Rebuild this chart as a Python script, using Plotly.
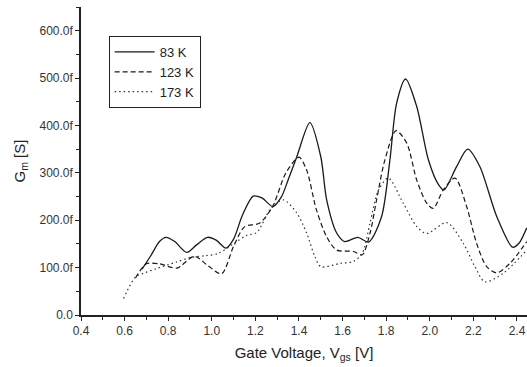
import plotly.graph_objects as go

# 83 K (solid)
x83 = [0.68, 0.72, 0.76, 0.79, 0.83, 0.885, 0.93, 0.98, 1.02, 1.065, 1.10, 1.14, 1.19, 1.23, 1.28,
       1.32, 1.35, 1.39, 1.45, 1.50, 1.527, 1.573, 1.61, 1.67, 1.72, 1.779, 1.817, 1.848, 1.889,
       1.94, 1.994, 2.04, 2.065, 2.123, 2.174, 2.23, 2.307, 2.38, 2.41, 2.445]
y83 = [97, 125, 155, 164, 155, 132, 148, 164, 158, 141, 160, 210, 251, 247, 229,
       250, 285, 334, 406, 334, 243, 173, 155, 164, 154, 208, 327, 447, 498,
       440, 327, 275, 264, 313, 350, 313, 208, 143, 152, 184]

# 123 K (dashed)
x123 = [0.65, 0.70, 0.76, 0.84, 0.92, 0.98, 1.045, 1.10, 1.15, 1.22, 1.28, 1.34, 1.40, 1.435,
        1.48, 1.527, 1.573, 1.65, 1.69, 1.726, 1.756, 1.794, 1.845, 1.894, 1.94, 1.986, 2.016,
        2.062, 2.116, 2.169, 2.215, 2.261, 2.307, 2.368, 2.445]
y123 = [78, 108, 108, 99, 124, 105, 87, 145, 186, 194, 230, 300, 333, 306,
        222, 165, 137, 134, 127, 173, 243, 327, 389, 363, 285, 236, 225,
        264, 289, 229, 151, 102, 89, 109, 155]

# 173 K (dotted)
x173 = [0.595, 0.65, 0.686, 0.747, 0.839, 0.91, 0.97, 1.03, 1.114, 1.16, 1.206, 1.267, 1.328,
        1.39, 1.435, 1.473, 1.500, 1.59, 1.65, 1.69, 1.726, 1.765, 1.81, 1.878, 1.94, 1.986,
        2.078, 2.154, 2.207, 2.253, 2.337, 2.445]
y173 = [35, 80, 88, 98, 112, 122, 125, 130, 155, 168, 174, 222, 243,
        215, 173, 123, 102, 109, 113, 130, 194, 264, 289, 236, 187, 172,
        195, 151, 102, 70, 88, 137]

ytick_vals = [0, 100, 200, 300, 400, 500, 600]
ytick_text = ["0.0", "100.0f", "200.0f", "300.0f", "400.0f", "500.0f", "600.0f"]
xtick_vals = [0.4, 0.6, 0.8, 1.0, 1.2, 1.4, 1.6, 1.8, 2.0, 2.2, 2.4]
xtick_text = ["0.4", "0.6", "0.8", "1.0", "1.2", "1.4", "1.6", "1.8", "2.0", "2.2", "2.4"]

FONT = "Arial, Liberation Sans, sans-serif"

fig = go.Figure()
fig.add_trace(go.Scatter(x=x83, y=y83, name="83 K", mode="lines",
                         line=dict(color="#1a1a1a", width=1.3, shape="spline", smoothing=0.8)))
fig.add_trace(go.Scatter(x=x123, y=y123, name="123 K", mode="lines",
                         line=dict(color="#1a1a1a", width=1.2, dash="5px,3px", shape="spline", smoothing=0.8)))
fig.add_trace(go.Scatter(x=x173, y=y173, name="173 K", mode="lines",
                         line=dict(color="#333333", width=1.2, dash="1.5px,3px", shape="spline", smoothing=0.8)))

fig.update_layout(
    width=527, height=367,
    margin=dict(l=81, r=0, t=7, b=52),
    paper_bgcolor="white", plot_bgcolor="white",
    font=dict(family=FONT, size=12, color="#222"),
    showlegend=True,
    legend=dict(x=0.062, y=0.906, xanchor="left", yanchor="top",
                bordercolor="#222", borderwidth=1, bgcolor="white",
                font=dict(size=13, family=FONT, color="#222"),
                tracegroupgap=0, itemwidth=40),
    xaxis=dict(range=[0.4, 2.446], showline=True, linecolor="#222", linewidth=1.5,
               showgrid=False, zeroline=False, ticks="outside", ticklen=4, tickcolor="#222",
               tickvals=xtick_vals, ticktext=xtick_text,
               minor=dict(dtick=0.1, ticklen=3, ticks="outside", tickcolor="#222", tick0=0.4),
               tickfont=dict(size=12, color="#333"),
               title=dict(text="Gate Voltage, V<sub>gs</sub> [V]", font=dict(size=15, color="#222"),
                          standoff=10)),
    yaxis=dict(range=[0, 650], showline=True, linecolor="#222", linewidth=1.5,
               showgrid=False, zeroline=False, ticks="outside", ticklen=4, tickcolor="#222",
               tickvals=ytick_vals, ticktext=ytick_text,
               minor=dict(dtick=50, ticklen=3, ticks="outside", tickcolor="#222", tick0=0),
               tickfont=dict(size=12, color="#333"),
               title=dict(text="G<sub>m</sub> [S]", font=dict(size=15, color="#222"), standoff=10)),
)

fig.write_html("out.html")
